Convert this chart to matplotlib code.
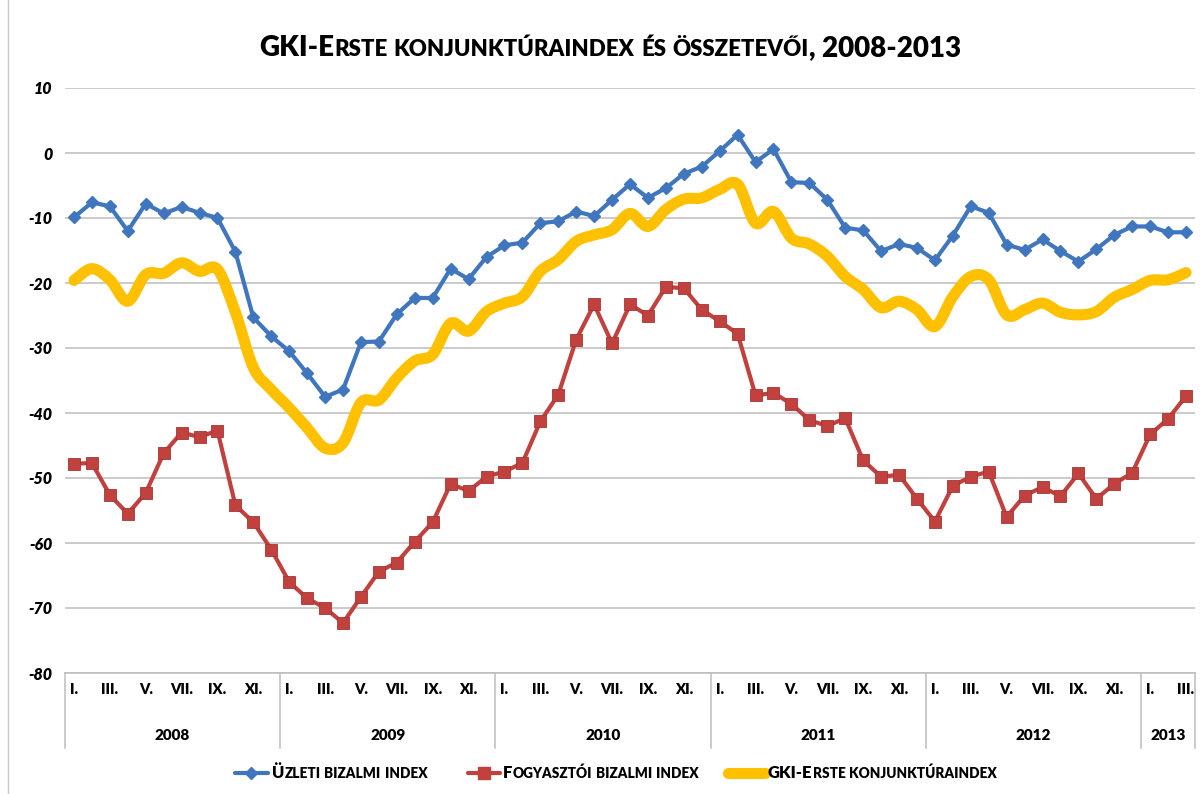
import matplotlib
matplotlib.use("Agg")
import matplotlib.pyplot as plt
import matplotlib.transforms as mtransforms
from matplotlib.path import Path
from matplotlib.patches import PathPatch
from matplotlib.lines import Line2D
from matplotlib.offsetbox import TextArea, HPacker, AnnotationBbox
import numpy as np

# ---------------- data ----------------
month_labels = ["I.", "II.", "III.", "IV.", "V.", "VI.", "VII.", "VIII.", "IX.", "X.", "XI.", "XII."]
years = ["2008", "2009", "2010", "2011", "2012", "2013"]
year_lengths = [12, 12, 12, 12, 12, 3]

title = "GKI-Erste konjunktúraindex és összetevői, 2008-2013"
name_uzleti = "Üzleti bizalmi index"
name_fogyasztoi = "Fogyasztói bizalmi index"
name_gki = "GKI-Erste konjunktúraindex"

uzleti = [-9.9, -7.6, -8.2, -12.0, -7.8, -9.3, -8.3, -9.2, -10.0, -15.2,
          -25.3, -28.2, -30.5, -33.9, -37.5, -36.4, -29.1, -29.0, -24.8, -22.3,
          -22.3, -17.8, -19.4, -16.0, -14.2, -13.8, -10.8, -10.5, -9.0, -9.7,
          -7.2, -4.8, -6.9, -5.4, -3.2, -2.1, 0.3, 2.8, -1.4, 0.6,
          -4.5, -4.6, -7.2, -11.5, -11.9, -15.1, -14.0, -14.6, -16.5, -12.7,
          -8.2, -9.2, -14.1, -14.9, -13.3, -15.1, -16.7, -14.8, -12.6, -11.3,
          -11.3, -12.2, -12.2]
fogyasztoi = [-47.8, -47.7, -52.6, -55.5, -52.3, -46.2, -43.0, -43.7, -42.7, -54.2,
              -56.8, -61.0, -66.0, -68.5, -70.0, -72.3, -68.3, -64.4, -63.0, -59.8,
              -56.8, -50.9, -52.0, -49.8, -49.0, -47.7, -41.3, -37.2, -28.7, -23.3,
              -29.3, -23.3, -25.0, -20.6, -20.8, -24.1, -25.9, -27.8, -37.3, -36.9,
              -38.6, -41.1, -42.0, -40.8, -47.3, -49.8, -49.5, -53.2, -56.7, -51.2,
              -49.8, -49.0, -56.0, -52.7, -51.4, -52.8, -49.3, -53.2, -50.9, -49.2,
              -43.3, -40.9, -37.4]
gki = [-19.6, -17.8, -19.5, -22.8, -18.7, -18.5, -16.9, -18.2, -17.9, -24.5,
       -33.0, -36.4, -39.2, -42.3, -45.4, -44.6, -38.4, -38.0, -34.6, -32.0,
       -31.0, -26.2, -27.4, -24.4, -23.1, -22.1, -18.2, -16.4, -13.6, -12.6,
       -11.8, -9.3, -11.3, -8.7, -7.1, -6.9, -5.6, -4.8, -10.8, -9.0,
       -13.1, -14.0, -15.9, -19.0, -21.0, -23.8, -22.8, -24.1, -26.7, -22.1,
       -19.0, -19.5, -24.9, -24.1, -23.1, -24.5, -24.9, -24.4, -22.2, -21.0,
       -19.6, -19.5, -18.4]

# ---------------- style ----------------
BLUE = "#3F76BE"
RED = "#C0413D"
RED_EDGE = "#A83532"
YELLOW = "#FFC000"
GRID = "#BDBDBD"
FONT = "Lato"
HEAVY = "heavy"

W, H = 1203, 794
fig = plt.figure(figsize=(W / 100, H / 100), dpi=100)
ax = fig.add_axes([65 / W, 1 - 673 / H, (1195 - 65) / W, (673 - 88) / H])

n = len(uzleti)
x = np.arange(n) + 0.5


def smooth_path(xs, ys):
    pts = np.column_stack([xs, ys])
    ext = np.vstack([pts[0], pts, pts[-1]])
    verts = [pts[0]]
    codes = [Path.MOVETO]
    for i in range(len(pts) - 1):
        p0, p1, p2, p3 = ext[i], ext[i + 1], ext[i + 2], ext[i + 3]
        c1 = p1 + (p2 - p0) / 6.0
        c2 = p2 - (p3 - p1) / 6.0
        verts += [c1, c2, p2]
        codes += [Path.CURVE4] * 3
    return Path(verts, codes)


ax.add_patch(PathPatch(smooth_path(x, gki), facecolor="none", edgecolor=YELLOW,
                       lw=8, capstyle="round", joinstyle="round", zorder=3))
ax.plot(x, fogyasztoi, color=RED, lw=3, marker="s", ms=9, mfc=RED, mec=RED_EDGE,
        mew=0.6, zorder=4)
ax.plot(x, uzleti, color=BLUE, lw=3, marker="D", ms=6.5, mfc=BLUE, mec=BLUE, zorder=5)

ax.set_xlim(0, n)
ax.set_ylim(-80, 10)
ax.set_yticks(np.arange(-80, 11, 10))
ax.set_yticklabels([f"{v:d}" for v in range(-80, 11, 10)],
                   fontfamily=FONT, fontweight=HEAVY, fontstyle="italic", fontsize=11.5)
ax.tick_params(axis="y", length=0, pad=9)
ax.set_xticks([])
ax.grid(axis="y", color=GRID, lw=1.1)
ax.set_axisbelow(True)
for s in ["left", "right", "top"]:
    ax.spines[s].set_visible(False)
ax.spines["bottom"].set_color(GRID)
ax.spines["bottom"].set_linewidth(1.1)

# category axis (months + years)
blend = mtransforms.blended_transform_factory(ax.transData, ax.transAxes)
box_h = 75 / 585
month_tr = mtransforms.offset_copy(blend, fig=fig, y=-17, units="dots")
year_tr = mtransforms.offset_copy(blend, fig=fig, y=-63, units="dots")
for i in range(0, n, 2):
    ax.text(x[i], 0, month_labels[i % 12], transform=month_tr, ha="center", va="center",
            fontfamily=FONT, fontweight=HEAVY, fontsize=10.5)
start = 0
bounds = [0]
for yl, ln in zip(years, year_lengths):
    ax.text(start + ln / 2, 0, yl, transform=year_tr, ha="center", va="center",
            fontfamily=FONT, fontweight=HEAVY, fontsize=11)
    start += ln
    bounds.append(start)
for b in bounds:
    ax.plot([b, b], [0, -box_h], transform=blend, color=GRID, lw=1.1, clip_on=False)

# left border of chart area
fig.add_artist(Line2D([8 / W, 8 / W], [0, 1], transform=fig.transFigure, color="#C8C8C8", lw=1))


def smallcaps(s, big, small, x_px, y_px, align):
    runs = []
    for ch in s:
        sm = ch.isalpha() and ch.islower()
        if runs and runs[-1][0] == sm:
            runs[-1][1] += ch
        else:
            runs.append([sm, ch])
    kids = [TextArea(t.upper() if sm else t,
                     textprops=dict(fontsize=small if sm else big, fontfamily=FONT,
                                    fontweight=HEAVY, color="black"))
            for sm, t in runs]
    box = HPacker(children=kids, pad=0, sep=0, align="baseline")
    ab = AnnotationBbox(box, (x_px, H - y_px), xycoords="figure pixels", frameon=False,
                        box_alignment=align, pad=0)
    fig.add_artist(ab)


smallcaps(title, 20, 16, 610, 48, (0.5, 0.5))

# legend
leg_y = 773
legend_items = [
    (235, 268, BLUE, "D", 6.5, name_uzleti, 272),
    (468, 500, RED, "s", 9, name_fogyasztoi, 503),
    (728, 765, YELLOW, None, 0, name_gki, 768),
]
for x0, x1, col, mk, ms, label, tx in legend_items:
    lw = 8 if mk is None else 3
    fig.add_artist(Line2D([x0 / W, x1 / W], [1 - leg_y / H, 1 - leg_y / H],
                          transform=fig.transFigure, color=col, lw=lw,
                          solid_capstyle="round"))
    if mk:
        fig.add_artist(Line2D([(x0 + x1) / 2 / W], [1 - leg_y / H], transform=fig.transFigure,
                              color=col, marker=mk, ms=ms, lw=0))
    smallcaps(label, 12, 9.8, tx, leg_y, (0, 0.5))

fig.savefig("out.png", dpi=100)
